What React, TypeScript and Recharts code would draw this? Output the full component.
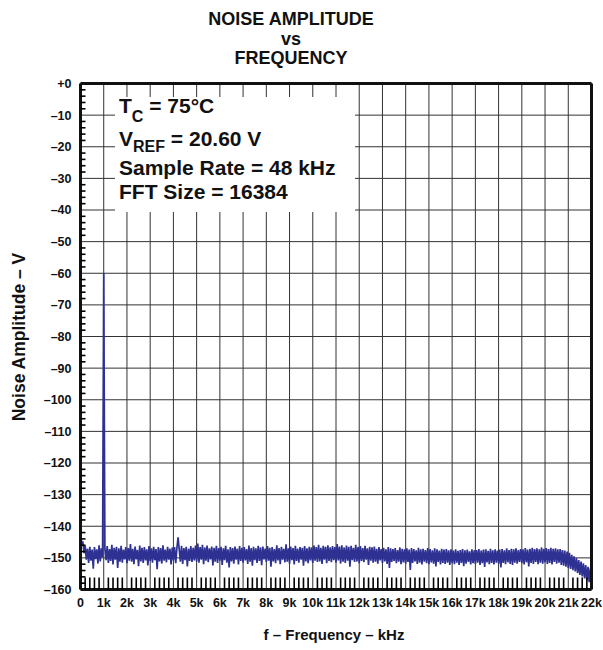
import React from "react";
import {
  ComposedChart,
  Line,
  Scatter,
  XAxis,
  YAxis,
  CartesianGrid,
  ReferenceLine,
} from "recharts";

// FFT noise floor, one value every 50 Hz from 0 to 22 kHz (one row per kHz)
const amplitude = [
  -140, -146.2, -144.8, -148.5, -146.1, -150.6, -147.1, -151.6, -146.5, -150.9, -147.4, -153.4, -146.6, -150.4, -147.3, -151.8, -146.0, -151.1, -147.0, -149.8,
  -60, -147.0, -150.7, -146.3, -151.6, -147.2, -151.0, -145.9, -152.1, -146.8, -150.6, -146.5, -153.2, -147.0, -151.2, -146.2, -151.5, -147.4, -150.5, -146.6,
  -151.7, -146.9, -150.9, -145.6, -151.2, -147.1, -152.0, -146.4, -150.5, -147.5, -152.6, -146.1, -151.1, -146.8, -151.6, -146.6, -150.8, -147.3, -152.4, -146.3,
  -151.0, -147.0, -151.5, -146.5, -150.7, -147.2, -153.6, -146.6, -151.1, -146.9, -151.8, -146.0, -150.9, -147.4, -151.4, -146.5, -150.6, -147.1, -152.1, -146.7,
  -150.8, -146.6, -151.7, -147.0, -143.5, -147.3, -151.2, -146.2, -151.9, -146.9, -150.7, -146.5, -152.7, -147.1, -151.0, -146.3, -151.3, -146.8, -150.8, -146.1,
  -151.1, -145.5, -151.5, -146.6, -150.6, -145.9, -152.0, -146.7, -150.9, -146.1, -151.4, -147.0, -150.5, -146.4, -152.4, -146.8, -151.2, -146.2, -151.6, -146.9,
  -150.9, -146.5, -152.2, -147.0, -150.7, -146.2, -151.5, -147.3, -153.0, -146.6, -151.1, -146.9, -151.8, -146.4, -150.6, -147.1, -152.1, -146.3, -151.0, -146.8,
  -151.5, -146.6, -150.8, -147.2, -151.9, -146.1, -151.2, -146.9, -152.5, -146.5, -150.7, -147.0, -151.6, -146.2, -151.0, -146.7, -152.3, -146.4, -150.5, -147.1,
  -151.3, -146.3, -150.9, -146.8, -152.8, -146.6, -151.1, -147.2, -151.7, -146.0, -150.8, -146.9, -152.0, -146.5, -150.6, -147.1, -151.4, -145.7, -151.2, -147.0,
  -151.8, -146.4, -150.7, -146.9, -152.1, -146.2, -151.0, -147.1, -151.5, -146.6, -150.6, -146.8, -152.5, -146.3, -151.1, -147.0, -151.7, -146.5, -150.8, -146.7,
  -151.6, -146.1, -150.9, -146.6, -151.3, -145.9, -151.1, -146.8, -151.9, -146.2, -150.6, -146.5, -151.7, -146.0, -151.0, -146.7, -151.4, -146.3, -150.7, -146.6,
  -151.5, -145.6, -150.8, -146.4, -151.8, -146.0, -151.2, -146.7, -151.6, -146.1, -150.9, -146.5, -152.8, -146.2, -150.7, -146.8, -151.3, -145.9, -151.1, -146.6,
  -151.7, -146.3, -151.0, -146.9, -151.4, -146.2, -150.6, -147.0, -152.2, -146.5, -150.9, -146.7, -151.5, -146.4, -151.2, -147.1, -151.8, -146.6, -150.8, -147.2,
  -151.6, -146.8, -151.1, -147.3, -151.9, -146.6, -153.2, -147.0, -151.3, -147.2, -151.0, -146.9, -151.7, -147.5, -151.2, -146.7, -152.0, -147.1, -151.4, -147.3,
  -151.8, -147.0, -151.3, -147.4, -153.8, -146.9, -151.6, -147.2, -151.1, -147.6, -151.9, -146.8, -151.5, -147.3, -152.1, -147.1, -151.2, -147.5, -151.7, -146.9,
  -152.0, -147.2, -151.4, -147.6, -151.8, -147.0, -152.7, -147.3, -151.3, -147.7, -152.1, -147.1, -151.6, -147.4, -151.9, -147.2, -151.5, -147.6, -152.2, -147.3,
  -151.7, -147.7, -152.0, -147.3, -151.5, -147.8, -152.2, -147.5, -151.6, -147.2, -152.6, -147.6, -151.8, -147.4, -151.3, -147.9, -152.1, -147.3, -151.7, -147.6,
  -151.9, -147.5, -151.5, -147.2, -152.2, -147.7, -151.7, -147.4, -152.9, -147.3, -151.4, -147.8, -152.0, -147.1, -151.6, -147.6, -152.1, -147.3, -151.5, -147.7,
  -151.8, -147.4, -153.0, -147.2, -151.6, -147.6, -152.0, -147.0, -151.4, -147.5, -151.9, -147.1, -152.2, -147.3, -151.5, -147.0, -151.8, -147.5, -151.3, -147.2,
  -151.7, -147.3, -152.1, -146.9, -151.4, -147.4, -152.7, -147.1, -151.6, -146.8, -151.9, -147.2, -151.3, -147.0, -152.0, -147.3, -151.5, -146.7, -151.8, -147.1,
  -151.4, -146.9, -151.9, -147.2, -151.6, -146.8, -152.1, -147.1, -151.3, -147.0, -151.8, -147.3, -151.5, -147.2, -152.2, -147.5, -152.5, -147.7, -152.8, -148.0,
  -153.2, -148.4, -153.5, -149.0, -153.9, -149.5, -154.3, -150.1, -154.8, -150.7, -155.4, -151.2, -155.9, -151.7, -156.5, -152.3, -157.1, -152.8, -157.7, -153.3,
  -157.8,
];
const binKHz = 0.05;

const majorX = Array.from({ length: 23 }, (_, i) => i);
const minorX = Array.from({ length: 111 }, (_, i) => i).filter((i) => i % 5 !== 0).map((i) => (i * 2) / 10);
const majorY = [0, -10, -20, -30, -40, -50, -60, -70, -80, -90, -100, -110, -120, -130, -140, -150, -160];
const minorY = Array.from({ length: 81 }, (_, i) => i).filter((i) => i % 5 !== 0).map((i) => -i * 2);

const data = amplitude.map((a, i) => ({ f: Math.round(i * binKHz * 100) / 100, amp: a }));
const bottomTicks = minorX.map((v) => ({ f: v, amp: -160 }));
const leftTicks = minorY.map((v) => ({ f: 0, amp: v }));

const FONT = "'Liberation Sans', Arial, Helvetica, sans-serif";
const tickStyle = { fontFamily: FONT, fontWeight: "bold", fontSize: 12.5, fill: "#111" };

const UpTick = (props: any) => (
  <line x1={props.cx} x2={props.cx} y1={props.cy} y2={props.cy - 12} stroke="#000" strokeWidth={1.6} />
);
const RightTick = (props: any) => (
  <line x1={props.cx} x2={props.cx + 5} y1={props.cy} y2={props.cy} stroke="#000" strokeWidth={1.6} />
);

// annotation box drawn on top of the chart
const InfoBox = () => (
  <svg
    width={603}
    height={650}
    style={{ position: "absolute", left: 0, top: 0, pointerEvents: "none" }}
  >
    <g fontFamily={FONT} fontWeight="bold" fill="#111">
      <rect x={115} y={97} width={240} height={115} fill="#fff" />
      <text x={119} y={113} fontSize={21}>
        T<tspan fontSize={16} dy={9}>C</tspan>
        <tspan dy={-9}> = 75°C</tspan>
      </text>
      <text x={119} y={146} fontSize={21}>
        V<tspan fontSize={16} dy={6}>REF</tspan>
        <tspan dy={-6}> = 20.60 V</tspan>
      </text>
      <text x={119} y={175} fontSize={21}>Sample Rate = 48 kHz</text>
      <text x={119} y={199} fontSize={21}>FFT Size = 16384</text>
    </g>
  </svg>
);

export default function App() {
  return (
    <div style={{ position: "relative", width: 603, height: 650, background: "#fff" }}>
      <style>{`body{margin:0}`}</style>
      <ComposedChart
        width={603}
        height={650}
        data={data}
        margin={{ top: 83.5, right: 11.5, bottom: 0, left: 0 }}
      >
        <CartesianGrid stroke="#333" strokeWidth={1} verticalValues={majorX} horizontalValues={majorY} />
        <XAxis
          dataKey="f"
          type="number"
          domain={[0, 22]}
          ticks={majorX}
          interval={0}
          height={60.5}
          tickSize={0}
          tickMargin={9}
          tickLine={false}
          axisLine={false}
          tick={tickStyle}
          tickFormatter={(v: number) => (v === 0 ? "0" : `${v}k`)}
        />
        <YAxis
          type="number"
          domain={[-160, 0]}
          ticks={majorY}
          interval={0}
          width={80.5}
          tickSize={0}
          tickMargin={9}
          tickLine={false}
          axisLine={false}
          tick={tickStyle}
          tickFormatter={(v: number) => (v === 0 ? "+0" : `\u2013${Math.abs(v)}`)}
        />
        <Scatter data={bottomTicks} dataKey="amp" shape={<UpTick />} isAnimationActive={false} />
        <Scatter data={leftTicks} dataKey="amp" shape={<RightTick />} isAnimationActive={false} />
        <Line
          dataKey="amp"
          type="linear"
          stroke="#2e3192"
          strokeWidth={1.7}
          dot={false}
          isAnimationActive={false}
        />
        <ReferenceLine x={0} stroke="#111" strokeWidth={3} ifOverflow="visible" />
        <ReferenceLine x={22} stroke="#111" strokeWidth={3} ifOverflow="visible" />
        <ReferenceLine y={0} stroke="#111" strokeWidth={3} ifOverflow="visible" />
        <ReferenceLine y={-160} stroke="#111" strokeWidth={3} ifOverflow="visible" />
        <text x={291} y={25} textAnchor="middle" fontFamily={FONT} fontWeight="bold" fontSize={18} fill="#111">
          NOISE AMPLITUDE
        </text>
        <text x={291} y={45} textAnchor="middle" fontFamily={FONT} fontWeight="bold" fontSize={18} fill="#111">
          vs
        </text>
        <text x={291} y={64} textAnchor="middle" fontFamily={FONT} fontWeight="bold" fontSize={18} fill="#111">
          FREQUENCY
        </text>
        <text x={334} y={640} textAnchor="middle" fontFamily={FONT} fontWeight="bold" fontSize={15} fill="#111">
          f – Frequency – kHz
        </text>
        <text
          x={25}
          y={337}
          textAnchor="middle"
          transform="rotate(-90 25 337)"
          fontFamily={FONT}
          fontWeight="bold"
          fontSize={17.5}
          fill="#111"
        >
          Noise Amplitude – V
        </text>
      </ComposedChart>
      <InfoBox />
    </div>
  );
}
